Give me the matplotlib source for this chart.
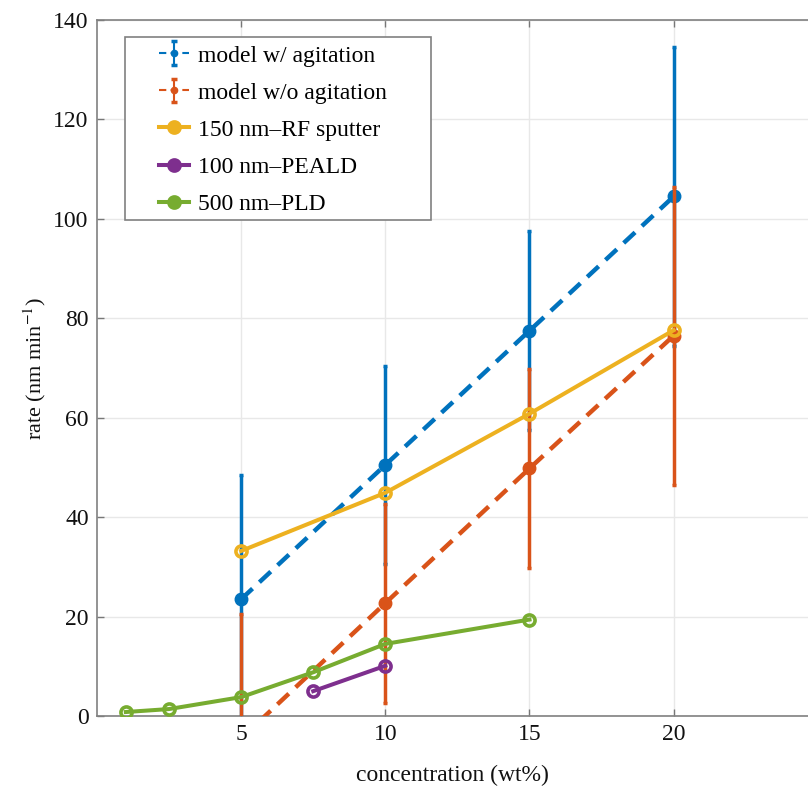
import numpy as np
import matplotlib.pyplot as plt
from matplotlib.lines import Line2D
from matplotlib.patches import Rectangle
from matplotlib.container import ErrorbarContainer
from matplotlib.legend_handler import HandlerErrorbar

plt.rcParams["font.family"] = ["Liberation Serif", "DejaVu Serif"]
plt.rcParams["mathtext.fontset"] = "stix"

### data ###

conc_model = np.array([5, 10, 15, 20])
rate_agit = np.array([23.5, 50.5, 77.5, 104.5])
rate_noagit = np.array([-4.5, 22.7, 49.8, 76.5])
err_model = np.array([25, 20, 20, 30])

conc_rf = np.array([5, 10, 15, 20])
rate_rf = np.array([33.2, 44.9, 60.8, 77.6])

conc_peald = np.array([7.5, 10])
rate_peald = np.array([5.0, 10.1])

conc_pld = np.array([1, 2.5, 5, 7.5, 10, 15])
rate_pld = np.array([0.8, 1.4, 3.8, 8.8, 14.5, 19.4])

blue = "#0072BD"
red = "#D95319"
orange = "#EDB120"
purple = "#7E2F8E"
green = "#77AC30"

### functions ###

def small_errorbar(leg_artist, orig):
    # thin dashed line + small dot for the error bar entries
    leg_artist.update_from(orig)
    if isinstance(leg_artist, Line2D):
        leg_artist.set_markersize(4.5)
        leg_artist.set_linewidth(1.5)
    else:
        leg_artist.set_linewidth(1.5)

### plot ###

fig = plt.figure(figsize=(8.08, 7.92), dpi=100)
ax = fig.add_axes([97/808, 76/792, 711/808, 696/792])

dash = (0, (3.5, 2.1))
eb1 = ax.errorbar(conc_model, rate_agit, yerr=err_model, fmt="o", ls=dash,
                  color=blue, lw=3.2, elinewidth=2.5, capsize=1.5, capthick=2.5,
                  ms=9, label="model w/ agitation", zorder=3)
eb2 = ax.errorbar(conc_model, rate_noagit, yerr=err_model, fmt="o", ls=dash,
                  color=red, lw=3.2, elinewidth=2.5, capsize=1.5, capthick=2.5,
                  ms=9, label="model w/o agitation", zorder=4)

style = dict(marker="o", mfc="none", mew=2.6, ms=8, lw=2.9)
l1, = ax.plot(conc_rf, rate_rf, color=orange, label="150 nm\u2013RF sputter", zorder=5, **style)
l2, = ax.plot(conc_peald, rate_peald, color=purple, label="100 nm\u2013PEALD", zorder=6, **style)
l3, = ax.plot(conc_pld, rate_pld, color=green, label="500 nm\u2013PLD", zorder=7, **style)

ax.set_xlim(0, 24.66)
ax.set_ylim(0, 140)
ax.set_xticks([5, 10, 15, 20])
ax.set_yticks(np.arange(0, 141, 20))
ax.grid(True, color="#e8e8e8", lw=1.0)
ax.set_axisbelow(True)

ax.tick_params(direction="in", length=5, width=1, color="#777777",
               labelsize=17, labelcolor="#111111", pad=6, top=True)
for side in ["left", "bottom", "top"]:
    ax.spines[side].set_color("#808080")
    ax.spines[side].set_linewidth(1.2)
ax.spines["right"].set_visible(False)

ax.set_xlabel("concentration (wt%)", fontsize=17, labelpad=14, color="#111111")
ax.set_ylabel("rate (nm min$^{-1}$)", fontsize=16, labelpad=4, color="#111111")

# legend box drawn separately (wide right margin)
box = Rectangle((28/711, 496/696), 306/711, 183/696, transform=ax.transAxes,
                facecolor="white", edgecolor="#808080", lw=1.2, zorder=8)
ax.add_patch(box)

leg = ax.legend(handles=[eb1, eb2, l1, l2, l3],
                handler_map={ErrorbarContainer: HandlerErrorbar(update_func=small_errorbar)},
                loc="upper left", bbox_to_anchor=(62/711, 671/696), borderaxespad=0,
                fontsize=17, handlelength=1.25, handletextpad=0.42, labelspacing=0.66,
                borderpad=0, frameon=False)
leg.set_zorder(9)
for ln in leg.get_lines():
    if ln.get_color() not in (blue, red):
        ln.set_markerfacecolor(ln.get_color())

fig.savefig("out.png", dpi=100)
